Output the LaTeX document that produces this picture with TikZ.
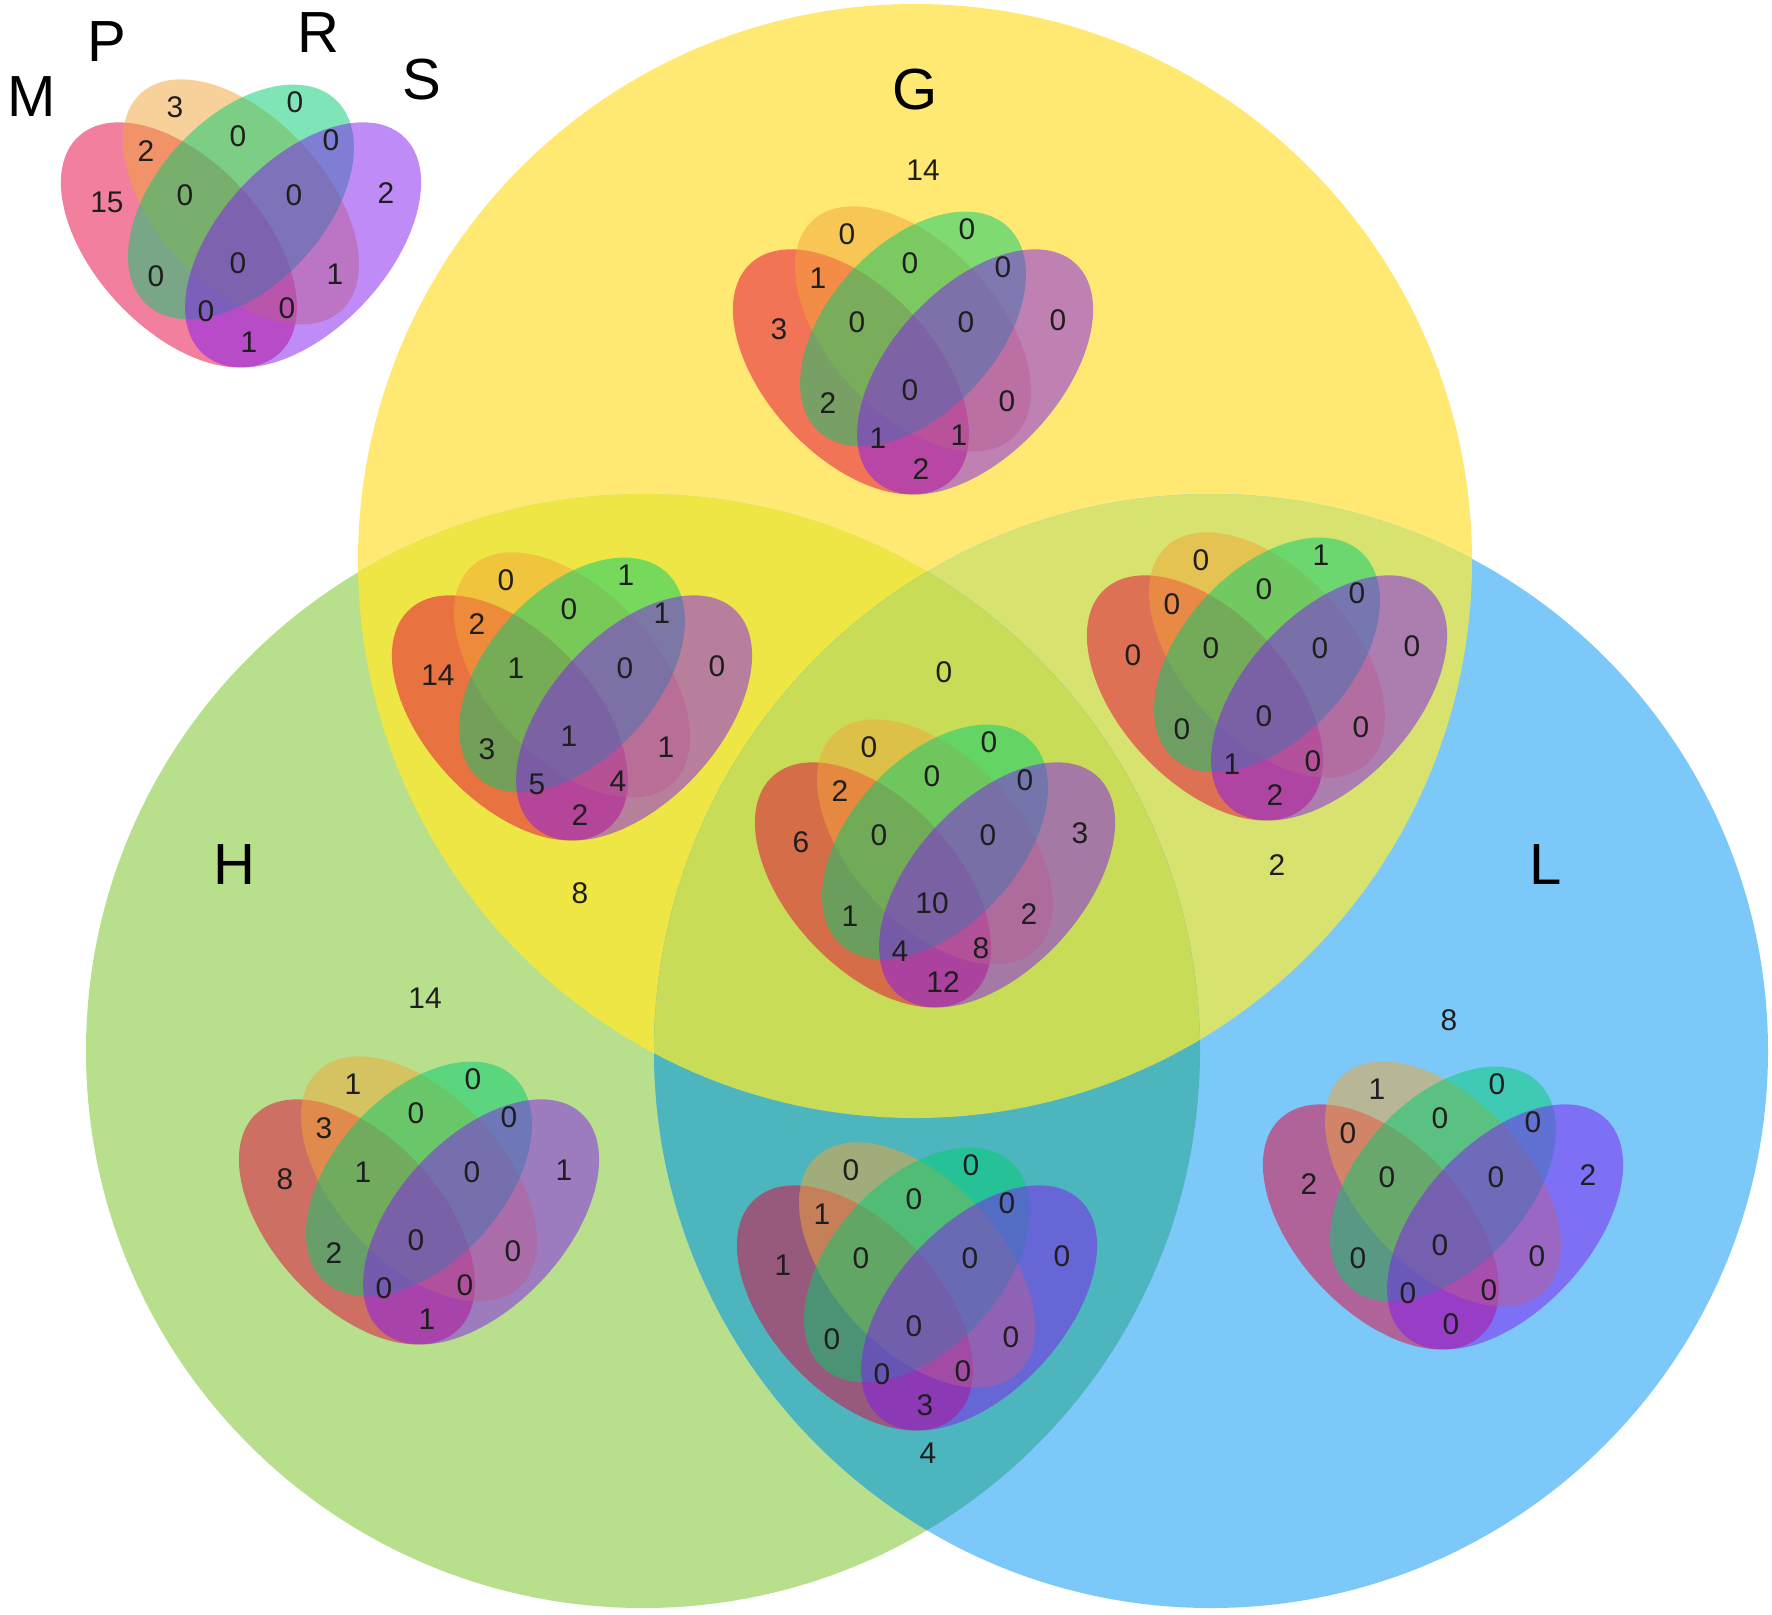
\documentclass[tikz,border=0pt]{standalone}
\usepackage{fontspec}
\setmainfont{Liberation Sans}
\definecolor{cG}{HTML}{FFE973}
\definecolor{cH}{HTML}{B8E08C}
\definecolor{cL}{HTML}{7CC8F8}
\definecolor{cGH}{HTML}{EEE645}
\definecolor{cGL}{HTML}{D8E26E}
\definecolor{cHL}{HTML}{4DB5BE}
\definecolor{cGHL}{HTML}{C8DC58}
\definecolor{vM}{RGB}{228,0,60}
\definecolor{vP}{RGB}{243,165,55}
\definecolor{vR}{RGB}{1,205,113}
\definecolor{vS}{RGB}{129,25,241}
\definecolor{numcol}{HTML}{1E1E1E}
\tikzset{
  num/.style={font=\fontsize{8.5}{10}\selectfont, text=numcol, inner sep=0pt},
  biglab/.style={font=\fontsize{16.5}{20}\selectfont, inner sep=0pt},
  vfill/.style={fill=#1, fill opacity=0.5, draw=none},
}
\def\vdx{{-66,54,-95,-3,90,-134,-56,53,145,-85,-3,94,-35,46,8}}
\def\vdy{{-122,-127,-78,-93,-89,-27,-34,-34,-36,47,34,45,82,79,113}}
\newcommand\smallvenn[4]{%
  \begin{scope}[shift={(#2,#3)}]
    \begin{scope}[shift={(0,3)},xscale=414,yscale=-430]
      \fill[vfill=vM,rotate around={135:(-0.15,-0.03)}] (-0.15,-0.03) ellipse [x radius=0.35,y radius=0.2];
      \fill[vfill=vP,rotate around={135:(0,0.07)}] (0,0.07) ellipse [x radius=0.35,y radius=0.2];
      \fill[vfill=vR,rotate around={45:(0,0.07)}] (0,0.07) ellipse [x radius=0.33,y radius=0.2];
      \fill[vfill=vS,rotate around={45:(0.15,-0.03)}] (0.15,-0.03) ellipse [x radius=0.35,y radius=0.2];
    \end{scope}
    \foreach \t [count=\i from 0] in {#4} {
      \pgfmathsetmacro\vx{\vdx[\i]}
      \pgfmathsetmacro\vy{\vdy[\i]}
      \node[num] (#1-\i) at (\vx,\vy) {\t};
    }
  \end{scope}}
\begin{document}
\begin{tikzpicture}[x=0.01cm,y=0.01cm,yscale=-1]
\useasboundingbox (0,0) rectangle (1772,1614);
\fill[white] (0,0) rectangle (1772,1614);
% big circles
\fill[cG] (915,561) circle [radius=557];
\fill[cH] (643,1051) circle [radius=557];
\fill[cL] (1211,1051) circle [radius=557];
\begin{scope}\clip (915,561) circle [radius=557]; \fill[cGH] (643,1051) circle [radius=557]; \end{scope}
\begin{scope}\clip (915,561) circle [radius=557]; \fill[cGL] (1211,1051) circle [radius=557]; \end{scope}
\begin{scope}\clip (643,1051) circle [radius=557]; \fill[cHL] (1211,1051) circle [radius=557]; \end{scope}
\begin{scope}\clip (915,561) circle [radius=557]; \clip (643,1051) circle [radius=557]; \fill[cGHL] (1211,1051) circle [radius=557]; \end{scope}
% big labels
\node[biglab] (labG) at (915,90) {G};
\node[biglab] (labH) at (234,865) {H};
\node[biglab] (labL) at (1546,865) {L};
\node[biglab] (labM) at (32,97) {M};
\node[biglab] (labP) at (107,42) {P};
\node[biglab] (labR) at (318,33) {R};
\node[biglab] (labS) at (422,80) {S};
% region totals
\node[num] (tG) at (923,170) {14};
\node[num] (tGH) at (580,893) {8};
\node[num] (tGHL) at (944,672) {0};
\node[num] (tGL) at (1277,865) {2};
\node[num] (tH) at (425,998) {14};
\node[num] (tL) at (1449,1020) {8};
\node[num] (tHL) at (928,1453) {4};
% small venns: Ponly,Ronly,MP,PR,RS,Monly,MPR,PRS,Sonly,MR,all,PS,MRS,MPS,MS
\smallvenn{leg}{241}{229}{3,0,2,0,0,15,0,0,2,0,0,1,0,0,1}
\smallvenn{vG}{913}{356}{0,0,1,0,0,3,0,0,0,2,0,0,1,1,2}
\smallvenn{vGH}{572}{702}{0,1,2,0,1,14,1,0,0,3,1,1,5,4,2}
\smallvenn{vGL}{1267}{682}{0,1,0,0,0,0,0,0,0,0,0,0,1,0,2}
\smallvenn{vGHL}{935}{869}{0,0,2,0,0,6,0,0,3,1,10,2,4,8,12}
\smallvenn{vH}{419}{1206}{1,0,3,0,0,8,1,0,1,2,0,0,0,0,1}
\smallvenn{vHL}{917}{1292}{0,0,1,0,0,1,0,0,0,0,0,0,0,0,3}
\smallvenn{vL}{1443}{1211}{1,0,0,0,0,2,0,0,2,0,0,0,0,0,0}
\end{tikzpicture}
\end{document}
